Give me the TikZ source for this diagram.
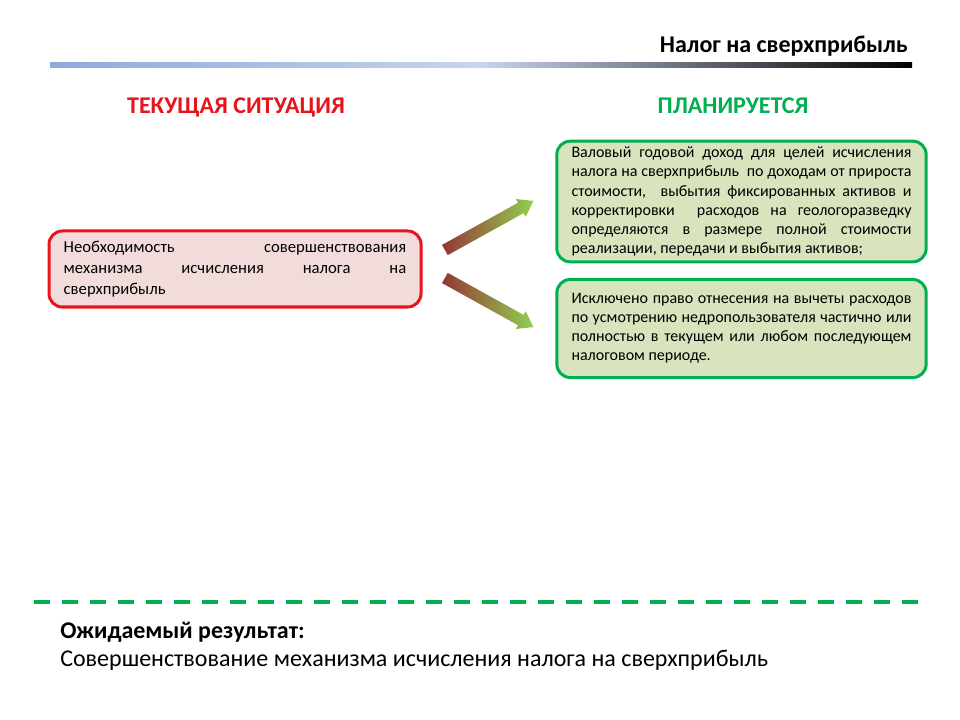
\documentclass[tikz,border=0pt]{standalone}
\usepackage{fontspec}
\setmainfont{Carlito}
\usepackage{xcolor}
\usetikzlibrary{positioning,shapes.arrows}

\definecolor{nowred}{HTML}{E8131B}
\definecolor{nowfill}{HTML}{F2DCDB}
\definecolor{plangreen}{HTML}{00B050}
\definecolor{planfill}{HTML}{D7E4BD}
\definecolor{tailred}{HTML}{953735}
\definecolor{tipgreen}{HTML}{92D050}
\definecolor{barblue}{HTML}{8FAADC}
\definecolor{barmid}{HTML}{B4C6E7}
\definecolor{barlight}{HTML}{C8D5EE}
\definecolor{bargray}{HTML}{7F8796}
\definecolor{bardark}{HTML}{4A4E56}
\pgfdeclarehorizontalshading{bargrad}{100bp}{color(0bp)=(barblue); color(25bp)=(barblue); color(42bp)=(barmid); color(50bp)=(barlight); color(59bp)=(bargray); color(65.5bp)=(bardark); color(75bp)=(black); color(100bp)=(black)}
\newcommand{\nohyph}{\hyphenpenalty=10000\relax}

\begin{document}
\begin{tikzpicture}[
  x=0.75pt, y=-0.75pt,
  node distance=11pt,
  head/.style={inner sep=0pt, anchor=base, font=\fontsize{18}{21}\selectfont\bfseries},
  box/.style={draw, rounded corners=10pt, line width=2.25pt, align=justify, inner xsep=11pt, inner ysep=2pt},
  nowbox/.style={box, draw=nowred, fill=nowfill, text width=257pt, minimum height=57pt, font=\fontsize{12.5}{15.8}\selectfont\nohyph},
  planbox/.style={box, draw=plangreen, fill=planfill, text width=255pt, font=\fontsize{12}{14.3}\selectfont\nohyph},
  grad/.style={single arrow, draw=none, inner xsep=0pt, inner ysep=4.2pt, single arrow head extend=3.2pt, single arrow tip angle=70, minimum height=76pt, left color=tailred, right color=tipgreen}
]
\useasboundingbox (0,0) rectangle (960,720);

% header
\node[inner sep=0pt, anchor=base east, font=\fontsize{18}{21}\selectfont\bfseries] (title) at (908,53) {Налог на сверхприбыль};
\shade[shading=bargrad] (50,63) rectangle (912,68);

\node[head, text=nowred] (now) at (236,114) {ТЕКУЩАЯ СИТУАЦИЯ};
\node[head, text=plangreen] (plan) at (733,114) {ПЛАНИРУЕТСЯ};

% boxes
\node[nowbox] (need) at (235,269) {Необходимость совершенствования\linebreak механизма исчисления налога на\linebreak сверхприбыль};

\node[planbox, minimum height=90.5pt] (gross) at (741.5,201.5) {Валовый годовой доход для целей исчисления\linebreak налога на сверхприбыль~ по доходам от прироста\linebreak стоимости,~ выбытия фиксированных активов и\linebreak корректировки~ расходов на геологоразведку\linebreak определяются в размере полной стоимости\linebreak реализации, передачи и выбытия активов;};
\node[planbox, minimum height=73.5pt, below=11pt of gross] (deduct) {Исключено право отнесения на вычеты расходов\linebreak по усмотрению недропользователя частично или\linebreak полностью в текущем или любом последующем\linebreak налоговом периоде.};

% arrows
\node[grad, rotate=29] (up) at (485.5,227.5) {};
\node[grad, rotate=-29] (down) at (485.5,300.5) {};

% result
\draw[plangreen, line width=3pt, dash pattern=on 12pt off 9pt] (34,602) -- (918,602);
\node[inner sep=0pt, anchor=base west, font=\fontsize{18}{21}\selectfont\bfseries] (res) at (60,638) {Ожидаемый результат:};
\node[inner sep=0pt, anchor=base west, font=\fontsize{18}{21}\selectfont] (restext) at (60,666) {Совершенствование механизма исчисления налога на сверхприбыль};
\end{tikzpicture}
\end{document}
